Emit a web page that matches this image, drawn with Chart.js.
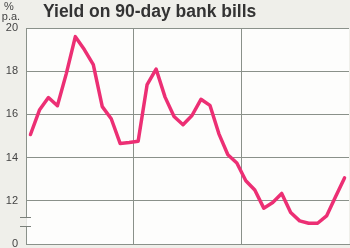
<!DOCTYPE html>
<html>
<head>
<meta charset="utf-8">
<script src="https://cdn.jsdelivr.net/npm/chart.js@4/dist/chart.umd.min.js"></script>
<style>
  html, body { margin: 0; padding: 0; background: #efefea; }
  #wrap { width: 350px; height: 248px; }
</style>
</head>
<body>
<div id="wrap"><canvas id="grafico" width="350" height="248"></canvas></div>
<script>
// Dados: rendimento mensal (% a.a.), 3 anos
const meses = ['J','F','M','A','M','J','J','A','S','O','N','D',
               'J','F','M','A','M','J','J','A','S','O','N','D',
               'J','F','M','A','M','J','J','A','S','O','N','D'];
const rendimento = [15.07, 16.2, 16.78, 16.4, 17.9, 19.6, 19.0, 18.3, 16.36, 15.8, 14.65, 14.7,
                    14.76, 17.38, 18.1, 16.8, 15.9, 15.52, 15.95, 16.7, 16.42, 15.1, 14.13, 13.75,
                    12.93, 12.5, 11.66, 11.92, 12.34, 11.46, 11.07, 10.96, 10.96, 11.3, 12.19, 13.06];
const ticksY = [10, 12, 14, 16, 18, 20];
const rotulosY = ['0', '12', '14', '16', '18', '20'];
const titulo = 'Yield on 90-day bank bills';

const corGrade = '#8a918a';

// Fundo, título, unidade, rótulos do eixo y e quebra do eixo
const decoracao = {
    id: 'decoracao',
    beforeDraw(chart) {
        const ctx = chart.ctx;
        const a = chart.chartArea;
        ctx.save();
        ctx.fillStyle = '#efefea';
        ctx.fillRect(0, 0, chart.width, chart.height);
        ctx.fillStyle = '#fdfdfc';
        ctx.fillRect(a.left, a.top, a.right - a.left, a.bottom - a.top);
        ctx.restore();
    },
    afterDraw(chart) {
        const ctx = chart.ctx;
        const a = chart.chartArea;
        const y = chart.scales.y;
        ctx.save();
        // titulo
        ctx.fillStyle = '#333333';
        ctx.font = 'bold 17.5px "Liberation Sans", Arial, sans-serif';
        ctx.textBaseline = 'alphabetic';
        ctx.textAlign = 'left';
        ctx.fillText(titulo, 43, 17);
        // unidade
        ctx.fillStyle = '#444444';
        ctx.font = '11px "Liberation Sans", Arial, sans-serif';
        ctx.textAlign = 'center';
        ctx.fillText('%', 9, 10);
        ctx.fillText('p.a.', 11, 20);
        // rotulos do eixo y
        ctx.textAlign = 'right';
        ctx.textBaseline = 'middle';
        ticksY.forEach((v, i) => {
            ctx.fillText(rotulosY[i], a.left - 8, y.getPixelForValue(v));
        });
        // quebra do eixo
        const y1 = Math.round(y.getPixelForValue(11.27)) + 0.5;
        const y2 = Math.round(y.getPixelForValue(10.84)) + 0.5;
        ctx.fillStyle = '#efefea';
        ctx.fillRect(a.left - 1, y1, 1.6, y2 - y1);
        ctx.fillStyle = '#fdfdfc';
        ctx.fillRect(a.left + 0.5, y1, 1.5, y2 - y1);
        ctx.strokeStyle = '#7a807a';
        ctx.lineWidth = 1;
        ctx.beginPath();
        ctx.moveTo(a.left - 6, y1); ctx.lineTo(a.left + 5, y1);
        ctx.moveTo(a.left - 6, y2); ctx.lineTo(a.left + 5, y2);
        ctx.stroke();
        ctx.restore();
    }
};

new Chart(document.getElementById('grafico').getContext('2d'), {
    type: 'line',
    data: {
        labels: meses,
        datasets: [{
            data: rendimento,
            borderColor: '#ec2f74',
            borderWidth: 3.5,
            borderJoinStyle: 'round',
            borderCapStyle: 'round',
            pointRadius: 0,
            tension: 0,
            fill: false
        }]
    },
    options: {
        responsive: false,
        animation: false,
        layout: { padding: { top: 28, right: 1, bottom: 4, left: 0 } },
        plugins: { legend: { display: false }, tooltip: { enabled: false }, title: { display: false } },
        scales: {
            x: {
                offset: true,
                grid: {
                    offset: true,
                    drawTicks: false,
                    color: ctx => (ctx.index % 12 === 0 ? corGrade : 'rgba(0,0,0,0)'),
                    lineWidth: 1
                },
                border: { color: corGrade, width: 1 },
                ticks: { display: false },
                afterFit: s => { s.height = 0; }
            },
            y: {
                min: 10,
                max: 20,
                afterBuildTicks: s => { s.ticks = ticksY.map(v => ({ value: v })); },
                grid: { drawTicks: false, color: corGrade, lineWidth: 1 },
                border: { color: corGrade, width: 1 },
                ticks: { display: false },
                afterFit: s => { s.width = 26; }
            }
        }
    },
    plugins: [decoracao]
});
</script>
</body>
</html>
